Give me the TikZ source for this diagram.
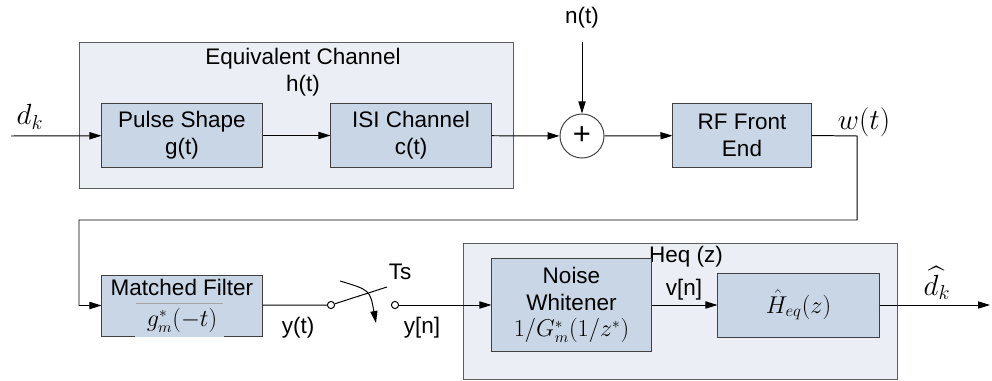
\documentclass[tikz,border=0pt]{standalone}
\usepackage{fontspec}
\setmainfont{Liberation Sans}
\usepackage{amsmath}
\usetikzlibrary{arrows.meta}
\definecolor{blockblue}{RGB}{200,214,230}
\definecolor{chanfill}{RGB}{235,239,245}
\definecolor{edgegray}{RGB}{64,64,64}
\tikzset{
  block/.style={draw=edgegray, fill=blockblue, line width=0.7pt, align=center, inner sep=0pt},
  outerbox/.style={draw=edgegray!85, fill=chanfill, line width=0.7pt},
  sig/.style={line width=0.7pt, -{Triangle[length=3mm,width=1.8mm]}},
  wire/.style={line width=0.7pt},
  tap/.style={draw, circle, fill=white, minimum size=0.18cm, inner sep=0pt, line width=0.7pt},
  lbl/.style={inner sep=0pt, align=center},
  biglbl/.style={inner sep=0pt, font=\fontsize{20}{22}\selectfont},
}

\begin{document}
\begin{tikzpicture}[x=0.025cm, y=-0.025cm, font=\fontsize{16}{19}\selectfont]
		%%%%% START %%%%%
		\useasboundingbox (0,0) rectangle (992,381);
		
		\draw[outerbox] (79,42) rectangle (513,188);
		\node[lbl] (eqlbl) at (303,72) {Equivalent Channel\\h(t)};
		
		\node[block, minimum width=4cm, minimum height=1.575cm] (pulse) at (182,135.5) {Pulse Shape\\g(t)};
		\node[block, minimum width=4cm, minimum height=1.575cm] (isi) at (411,135.5) {ISI Channel\\c(t)};
		\node[draw=edgegray, circle, fill=white, line width=0.7pt, minimum size=1.1cm, inner sep=0pt, font=\fontsize{22}{22}\selectfont] (sum) at (582,136) {+};
		\node[block, minimum width=3.45cm, minimum height=1.575cm] (rf) at (742,135.5) {RF Front\\End};
		
		\node[biglbl] (dk) at (30,117) {$d_k$};
		\node[lbl] (nt) at (582,18) {n(t)};
		\node[biglbl] (wt) at (864,122) {$w(t)$};
		\coordinate (din) at (11,136);
		\coordinate (ntop) at (582,42);
		\coordinate (wr) at (857,136);
		\coordinate (wd) at (857,220);
		\coordinate (wl) at (79,220);
		
		\node[block, minimum width=4cm, minimum height=1.525cm] (mf) at (182,305.5) {Matched Filter\\[3pt]$g_m^*(-t)$};
		\draw[gray!70, line width=0.5pt] (136,303) -- (223,303);
		\draw[blockblue, line width=1.2pt] (135,336) -- (224,336);
		
		\draw[sig] (din) -- (pulse);
		\draw[sig] (pulse) -- (isi);
		\draw[sig] (isi) -- (sum);
		\draw[sig] (ntop) -- (sum);
		\draw[sig] (sum) -- (rf);
		\draw[sig] (rf.east) -- (wr) -- (wd) -- (wl) |- (mf);
		
		% sampler
		\node[tap] (sw1) at (331,305) {};
		\node[tap] (sw2) at (395,305) {};
		\coordinate (lever) at (387,287);
		\coordinate (tsa) at (340,281);
		\coordinate (tsb) at (376,323);
		\draw[wire] (mf) -- (sw1);
		\draw[wire] (sw1) -- (lever);
		\draw[sig] (tsa) .. controls (370,290) .. (tsb);
		\node[lbl] (ts) at (400,272) {Ts};
		\node[lbl] (yt) at (298,328) {y(t)};
		\node[lbl] (yn) at (422,328) {y[n]};
		
		\draw[outerbox] (463,243.5) rectangle (897,379);
		\node[lbl] (heqlbl) at (686,257) {Heq (z)};
		\node[block, minimum width=3.975cm, minimum height=2.325cm] (nw) at (571.5,305) {Noise\\Whitener\\$1/G_m^*(1/z^*)$};
		\node[block, minimum width=4.025cm, minimum height=1.6cm, font=\fontsize{18}{20}\selectfont] (hhat) at (798.5,305) {$\hat{H}_{eq}(z)$};
		\node[lbl] (vn) at (684,290) {v[n]};
		\node[biglbl] (dhat) at (937,283) {$\widehat{d_k}$};
		\coordinate (dout) at (990,305);
		
		\draw[sig] (sw2) -- (nw);
		\draw[sig] (nw) -- (hhat);
		\draw[sig] (hhat) -- (dout);
		
		%%%%% END %%%%%
	\end{tikzpicture}
\end{document}
